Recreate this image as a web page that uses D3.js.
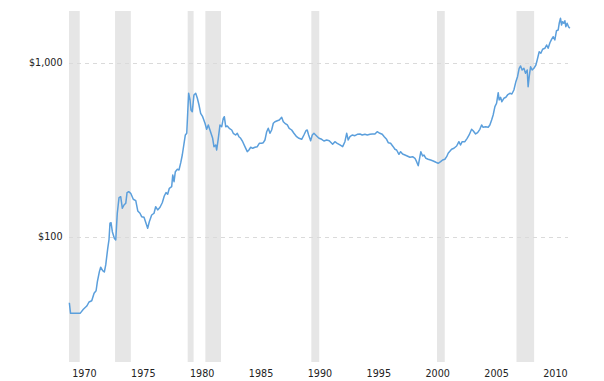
<!DOCTYPE html>
<html>
<head>
<meta charset="utf-8">
<script src="https://cdn.jsdelivr.net/npm/d3@7"></script>
<style>
  html, body { margin: 0; padding: 0; background: #fff; }
  svg { display: block; }
  text { font-family: "DejaVu Sans", Verdana, sans-serif; fill: #222; }
</style>
</head>
<body>
<svg id="chart" width="604" height="381"></svg>
<script>
// Gold price (nominal, USD/oz), log scale
const years = [1969.95,1970.05,1970.86,1971.14,1971.43,1971.62,1971.85,1972.05,1972.22,1972.33,1972.50,1972.61,1972.78,1972.92,
1973.04,1973.21,1973.32,1973.40,1973.49,1973.60,1973.77,1973.89,1974.02,1974.17,1974.31,1974.45,1974.59,1974.74,1974.85,1974.99,
1975.16,1975.38,1975.59,1975.76,1975.95,1976.09,1976.29,1976.46,1976.60,1976.74,1976.94,1977.14,1977.28,1977.45,1977.65,1977.84,
1978.01,1978.16,1978.30,1978.44,1978.64,1978.73,1978.84,1978.95,1979.12,1979.26,1979.41,1979.54,1979.69,1979.80,1979.92,
1980.00,1980.08,1980.20,1980.28,1980.39,1980.53,1980.68,1980.82,1980.96,1981.10,1981.27,1981.47,1981.61,1981.75,1981.98,
1982.12,1982.23,1982.38,1982.46,1982.60,1982.74,1982.89,1983.02,1983.11,1983.23,1983.36,1983.53,1983.74,1983.87,
1984.07,1984.21,1984.35,1984.50,1984.67,1984.86,1985.06,1985.20,1985.35,1985.52,1985.71,1985.91,1986.08,1986.28,1986.42,1986.56,
1986.71,1986.84,1986.99,1987.13,1987.27,1987.41,1987.61,1987.78,1987.98,1988.12,1988.26,1988.46,1988.62,1988.83,
1989.02,1989.25,1989.45,1989.68,1989.87,1990.04,1990.15,1990.27,1990.44,1990.58,1990.72,1990.95,1991.15,1991.38,1991.57,1991.80,
1992.02,1992.31,1992.50,1992.70,1992.93,1993.16,1993.35,1993.50,1993.63,1993.78,1993.97,1994.20,1994.40,1994.63,1994.82,
1995.05,1995.25,1995.48,1995.67,1995.90,1996.09,1996.32,1996.52,1996.69,1996.89,1997.03,1997.23,1997.45,1997.60,1997.74,1997.94,
1998.08,1998.25,1998.45,1998.64,1998.87,1999.10,1999.30,1999.44,1999.58,1999.72,1999.80,1999.95,2000.06,2000.23,2000.42,2000.63,2000.85,
2001.08,2001.27,2001.48,2001.65,2001.84,2001.99,2002.12,2002.41,2002.61,2002.84,2003.03,2003.17,2003.31,2003.54,2003.73,2003.90,
2004.11,2004.24,2004.45,2004.62,2004.81,2004.96,2005.09,2005.30,2005.52,2005.66,2005.81,2005.94,2006.09,2006.23,2006.37,2006.45,
2006.57,2006.68,2006.85,2007.02,2007.16,2007.36,2007.53,2007.70,2007.87,2008.01,2008.15,2008.27,2008.40,2008.55,2008.69,2008.83,
2008.91,2009.00,2009.12,2009.25,2009.40,2009.57,2009.68,2009.85,2009.99,2010.14,2010.33,2010.48,2010.61,2010.76,2010.90,
2011.04,2011.18,2011.32,2011.46,2011.55,2011.66,2011.75,2011.83,2011.94,2012.03,2012.11,2012.22,2012.34,2012.45];

const prices = [41.9,36.4,36.4,38.4,40.1,42.3,43.0,47.5,49.1,55.4,63.2,67.0,64.0,62.9,
69.1,86.1,97.0,119.9,120.8,107.3,98.3,96.1,136.9,168.2,170.4,146.2,152.7,156.2,179.8,182.1,
178.3,164.8,161.7,141.1,136.9,130.8,129.8,119.9,112.2,122.4,133.8,136.9,149.3,143.0,148.2,157.4,
172.0,179.8,176.0,190.5,194.6,227.2,207.9,237.3,244.9,242.7,267.3,296.0,345.6,385.7,394.5,
513.9,669.9,613.0,537.0,525.0,655.0,669.9,626.8,573.7,513.9,491.3,450.2,415.9,440.3,394.5,
369.2,330.4,337.9,316.2,369.2,440.3,430.4,481.0,491.3,430.4,434.5,421.4,412.0,394.5,
385.7,394.5,377.1,369.2,352.9,330.4,309.2,316.2,327.8,323.4,327.8,330.4,345.6,345.6,348.3,361.0,
402.9,421.4,394.5,412.0,450.2,459.8,466.0,470.3,487.4,459.8,450.2,440.3,421.4,412.0,
394.5,377.1,369.2,364.3,385.7,408.2,412.0,385.7,357.6,385.7,394.5,380.6,369.2,364.3,356.2,361.0,
357.6,341.1,352.9,345.6,337.9,330.4,352.9,394.5,361.0,377.1,385.7,382.1,389.2,390.8,385.7,
389.2,385.7,389.2,390.8,390.8,402.9,394.5,389.2,377.1,364.3,348.3,345.6,330.4,319.2,316.2,298.7,
309.2,299.9,296.0,292.1,287.1,289.4,283.4,270.9,256.9,289.4,309.2,292.1,296.0,283.4,279.7,277.0,273.5,
268.8,265.3,270.9,277.0,279.7,289.4,302.7,319.2,323.4,333.4,352.9,337.9,352.9,352.9,369.2,385.7,
415.9,408.2,390.8,397.6,415.9,440.3,427.0,430.4,427.0,440.3,470.3,502.5,561.0,586.8,675.1,613.0,
635.2,599.3,626.8,635.2,655.0,669.9,663.6,699.6,780.9,834.4,932.3,961.1,911.7,932.3,872.7,911.7,
730.9,834.4,952.2,911.7,932.3,973.9,1040,1161,1137,1199,1215,1269,1215,1308,1368,
1416,1356,1533,1547,1691,1807,1653,1728,1691,1750,1617,1691,1617,1583];

// US recessions (start, end) as decimal years
const recessionStart = [1969.92, 1973.83, 1980.0, 1981.5, 1990.5, 2001.17, 2007.92];
const recessionEnd   = [1970.83, 1975.17, 1980.5, 1982.83, 1991.17, 2001.83, 2009.42];

const xTickYears = [1970, 1975, 1980, 1985, 1990, 1995, 2000, 2005, 2010];
const yTickValues = [100, 1000];
const yTickLabels = ["$100", "$1,000"];

const svg = d3.select("#chart");
const plotLeft = 69, plotRight = 568, plotTop = 11, plotBottom = 362;

const x = d3.scaleLinear().domain([1969.92, 2012.5]).range([69, 570.4]);
const y = d3.scaleLog().domain([19.12, 1990]).range([plotBottom, plotTop]);

// recession bars
svg.append("g").selectAll("rect")
  .data(recessionStart.map((s, i) => [s, recessionEnd[i]]))
  .join("rect")
  .attr("x", d => Math.max(plotLeft, x(d[0])))
  .attr("width", d => x(d[1]) - Math.max(plotLeft, x(d[0])))
  .attr("y", plotTop)
  .attr("height", plotBottom - plotTop)
  .attr("fill", "#e6e6e6");

// gridlines
svg.append("g").selectAll("line")
  .data(yTickValues)
  .join("line")
  .attr("x1", plotLeft).attr("x2", plotRight)
  .attr("y1", d => Math.round(y(d)) + 0.5).attr("y2", d => Math.round(y(d)) + 0.5)
  .attr("stroke", "#dadada")
  .attr("stroke-width", 1)
  .attr("stroke-dasharray", "4,4");

// y labels
svg.append("g").selectAll("text")
  .data(yTickValues)
  .join("text")
  .attr("x", 62.5)
  .attr("y", d => y(d))
  .attr("dy", "0.35em")
  .attr("text-anchor", "end")
  .attr("font-size", "9.6px")
  .text((d, i) => yTickLabels[i]);

// x labels
svg.append("g").selectAll("text")
  .data(xTickYears)
  .join("text")
  .attr("x", d => x(d) + 14.5)
  .attr("y", 373.5)
  .attr("dy", "0.35em")
  .attr("text-anchor", "middle")
  .attr("font-size", "9.6px")
  .text(d => d);

// price line
const line = d3.line()
  .x((d, i) => x(years[i]))
  .y(d => y(d))
  .curve(d3.curveLinear);

svg.append("path")
  .datum(prices)
  .attr("d", line)
  .attr("fill", "none")
  .attr("stroke", "#5b9fdc")
  .attr("stroke-width", 1.5)
  .attr("stroke-linejoin", "round");
</script>
</body>
</html>
